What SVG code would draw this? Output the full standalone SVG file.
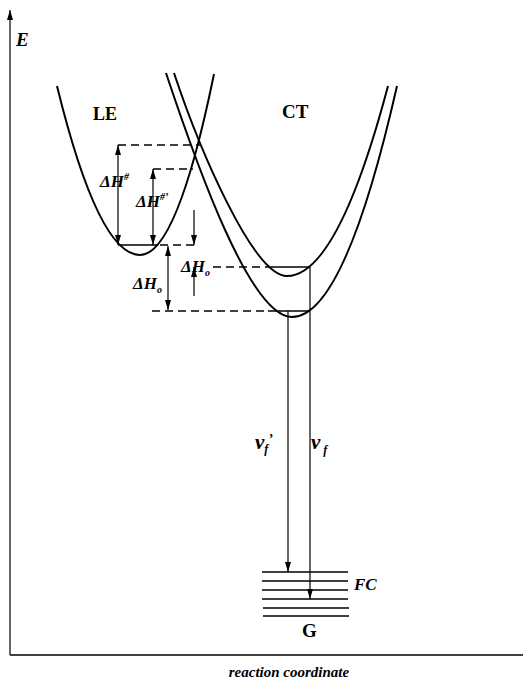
<svg xmlns="http://www.w3.org/2000/svg" width="523" height="680" viewBox="0 0 523 680">
<style>
.curve{fill:none;stroke:#000;stroke-width:2}
.solid{fill:none;stroke:#000;stroke-width:1.3}
.dash{fill:none;stroke:#000;stroke-width:1.3;stroke-dasharray:8 5}
.arr{fill:none;stroke:#000;stroke-width:1.2}
.lvl{fill:none;stroke:#000;stroke-width:1.6}
.lab{font-family:"Liberation Serif","Times New Roman",serif;font-weight:bold;fill:#000}
.it{font-style:italic}
</style>
<defs>
<marker id="ah" viewBox="0 0 10 6" refX="10" refY="3" markerWidth="10" markerHeight="6" orient="auto-start-reverse" markerUnits="userSpaceOnUse">
<path d="M0,0 L10,3 L0,6 z" fill="#000"/>
</marker>
</defs>
<rect width="523" height="680" fill="#fff"/>
<g id="axes">
<line class="arr" x1="10" y1="655" x2="10" y2="10" marker-end="url(#ah)"/>
<line class="solid" x1="10" y1="655" x2="523" y2="655"/>
<text class="lab it" x="16" y="46" font-size="19">E</text>
<text class="lab it" x="289" y="677" font-size="15" text-anchor="middle">reaction coordinate</text>
</g>
<g id="LE">
<path class="curve" d="M57 86 Q98.5 255 140 255 Q177 255 214 74"/>
<text class="lab" x="93" y="120" font-size="18">LE</text>
</g>
<g id="CT">
<path class="curve" d="M174 73 C199 148 253 276 287 276 Q337.5 276 388 86"/>
<path class="curve" d="M166 73 C196 163 250 317 292 317 Q344.5 317 397 86"/>
<text class="lab" x="282" y="118" font-size="19">CT</text>
</g>
<g id="levels">
<line class="solid" x1="118" y1="245" x2="157" y2="245"/>
<line class="dash" x1="160" y1="245" x2="199" y2="245"/>
<line class="dash" x1="118" y1="145" x2="200" y2="145"/>
<line class="dash" x1="153" y1="169" x2="193" y2="169"/>
<line class="dash" x1="213" y1="267" x2="267" y2="267"/>
<line class="solid" x1="267" y1="267" x2="310" y2="267"/>
<line class="dash" x1="152" y1="311" x2="268" y2="311"/>
<line class="solid" x1="268" y1="311" x2="310" y2="311"/>
</g>
<g id="FC">
<line class="lvl" x1="262" y1="572" x2="348" y2="572"/>
<line class="lvl" x1="262" y1="581" x2="348" y2="581"/>
<line class="lvl" x1="262" y1="590" x2="348" y2="590"/>
<line class="lvl" x1="262" y1="599" x2="348" y2="599"/>
<line class="lvl" x1="263" y1="608" x2="349" y2="608"/>
<line class="lvl" x1="263" y1="616" x2="349" y2="616"/>
<text class="lab it" x="354" y="590" font-size="17">FC</text>
<text class="lab" x="302" y="637" font-size="19">G</text>
</g>
<g id="connectors">
<line class="arr" x1="118" y1="145" x2="118" y2="245" marker-start="url(#ah)" marker-end="url(#ah)"/>
<line class="arr" x1="153" y1="169" x2="153" y2="245" marker-start="url(#ah)" marker-end="url(#ah)"/>
<line class="arr" x1="168" y1="246" x2="168" y2="310" marker-start="url(#ah)" marker-end="url(#ah)"/>
<line class="arr" x1="194" y1="210" x2="194" y2="245" marker-end="url(#ah)"/>
<line class="arr" x1="194" y1="296" x2="194" y2="267" marker-end="url(#ah)"/>
<line class="arr" x1="288" y1="311" x2="288" y2="572" marker-end="url(#ah)"/>
<line class="arr" x1="310" y1="267" x2="310" y2="599" marker-end="url(#ah)"/>
</g>
<g id="labels" class="lab it">
<text x="100" y="187" font-size="17">ΔH<tspan font-size="10" dy="-7">#</tspan></text>
<text x="136" y="207" font-size="17">ΔH<tspan font-size="10" dy="-7">#’</tspan></text>
<text x="133" y="289" font-size="17">ΔH<tspan font-size="10" dy="4">o</tspan></text>
<text x="181" y="272" font-size="17">ΔH<tspan font-size="10" dy="4">o</tspan></text>
<text x="255" y="449" font-size="21">ν<tspan font-size="12" dy="4">f</tspan><tspan font-size="14" dy="-9">’</tspan></text>
<text x="311" y="449" font-size="21">ν<tspan font-size="12" dy="5"> f</tspan></text>
</g>
</svg>
